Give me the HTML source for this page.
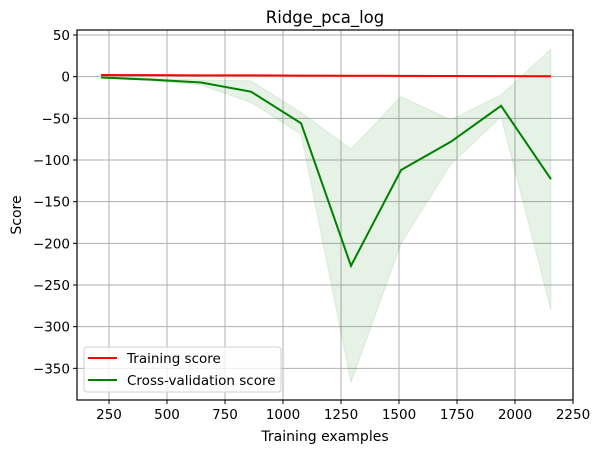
<!DOCTYPE html>
<html><head><meta charset="utf-8"><style>
body{margin:0;background:#fff;font-family:"Liberation Sans","DejaVu Sans",sans-serif;}
svg text{font-family:"DejaVu Sans","Liberation Sans",sans-serif;}
</style></head><body>
<svg id="chart" width="600" height="453" viewBox="0 0 600 453" xmlns="http://www.w3.org/2000/svg">
<rect width="600" height="453" fill="#fff"/>
<g id="grid"></g>
<g id="fills"></g>
<g id="lines"></g>
<g id="axes"></g>
</svg>
<script>
const trainSizes = [216, 431, 647, 862, 1078, 1293, 1509, 1724, 1940, 2155];
const trainScore = [2, 1.8, 1.6, 1.5, 1.3, 1.1, 1.0, 0.8, 0.6, 0.5];
const cvScore = [-1, -3.5, -7, -18, -56, -227, -112, -78, -35, -123];
const cvUpper = [0, -2, -4, -5, -43, -87, -24, -52, -22, 33];
const cvLower = [-2, -5, -10, -31, -69, -367, -200, -105, -48, -280];
const xTicks = [250, 500, 750, 1000, 1250, 1500, 1750, 2000, 2250];
const yTicks = [50, 0, -50, -100, -150, -200, -250, -300, -350];

const L=77, R=573, T=30, B=400;
const xMin=112, xMax=2250, yMin=-388, yMax=56;
const sx=v=>L+(v-xMin)/(xMax-xMin)*(R-L);
const sy=v=>T+(yMax-v)/(yMax-yMin)*(B-T);
const NS='http://www.w3.org/2000/svg';
function mk(tag,attrs,parent){const e=document.createElementNS(NS,tag);for(const k in attrs)e.setAttribute(k,attrs[k]);parent.appendChild(e);return e;}
const grid=document.getElementById('grid'), fills=document.getElementById('fills'), lines=document.getElementById('lines'), axes=document.getElementById('axes');

xTicks.forEach(t=>{
  const x=sx(t);
  const g=mk('line',{x1:x,x2:x,y1:T,y2:B,stroke:'#b0b0b0','stroke-width':1},grid);
  
  
  mk('line',{x1:x,x2:x,y1:B,y2:B+4,stroke:'#000','stroke-width':1},axes);
  const tx=mk('text',{x:x,y:B+19,'text-anchor':'middle','font-size':13.5,fill:'#000'},axes);
  tx.textContent=t;
  
  
});
yTicks.forEach(t=>{
  const y=sy(t);
  const g=mk('line',{x1:L,x2:R,y1:y,y2:y,stroke:'#b0b0b0','stroke-width':1},grid);
  
  
  mk('line',{x1:L-4,x2:L,y1:y,y2:y,stroke:'#000','stroke-width':1},axes);
  const tx=mk('text',{x:L-7,y:y+5,'text-anchor':'end','font-size':13.5,fill:'#000'},axes);
  tx.textContent=String(t).replace('-','\u2212');
  
  
});

function band(up,lo,color,name){
  let d='M'+trainSizes.map((x,i)=>sx(x)+','+sy(up[i])).join(' L');
  for(let i=trainSizes.length-1;i>=0;i--) d+=' L'+sx(trainSizes[i])+','+sy(lo[i]);
  const p=mk('path',{d:d+'Z',fill:color,'fill-opacity':0.1,stroke:color,'stroke-opacity':0.1},fills);
  
  
}
band(trainScore.map(v=>v+0.3),trainScore.map(v=>v-0.3),'#ff0000','training-score-band');
band(cvUpper,cvLower,'#008000','cv-score-band');

function line(vals,color,name){
  const p=mk('polyline',{points:trainSizes.map((x,i)=>sx(x)+','+sy(vals[i])).join(' '),fill:'none',stroke:color,'stroke-width':2},lines);
  
  
}
line(trainScore,'#ff0000','training-score-line');
line(cvScore,'#008000','cv-score-line');

const frame=mk('rect',{x:L,y:T,width:R-L,height:B-T,fill:'none',stroke:'#000','stroke-width':1.2},axes);



const title=mk('text',{x:(L+R)/2,y:23,'text-anchor':'middle','font-size':16.5,fill:'#000'},axes);
title.textContent='Ridge_pca_log';


const xl=mk('text',{x:(L+R)/2,y:441,'text-anchor':'middle','font-size':14,fill:'#000'},axes);
xl.textContent='Training examples';


const yl=mk('text',{x:0,y:0,'text-anchor':'middle','font-size':14,fill:'#000',transform:'translate(21,'+((T+B)/2)+') rotate(-90)'},axes);
yl.textContent='Score';



const leg=mk('g',{},axes);


mk('rect',{x:84,y:347,width:197,height:45,rx:3,fill:'#fff','fill-opacity':0.8,stroke:'#d0d0d0'},leg);
[['Training score','#ff0000',358],['Cross-validation score','#008000',380]].forEach(([txt,c,y])=>{
  const e=mk('g',{},leg);
  
  
  mk('line',{x1:88,x2:117,y1:y,y2:y,stroke:c,'stroke-width':2},e);
  const t=mk('text',{x:127,y:y+5,'font-size':13.5,fill:'#000'},e);
  t.textContent=txt;
});
</script>
</body></html>
